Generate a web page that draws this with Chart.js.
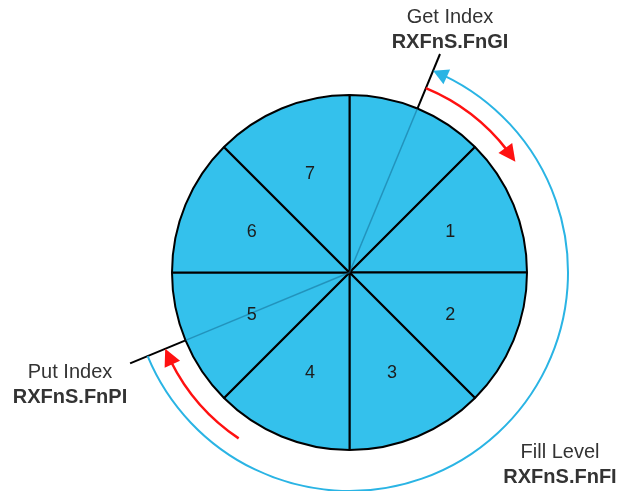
<!DOCTYPE html>
<html>
<head>
<meta charset="utf-8">
<script src="https://cdn.jsdelivr.net/npm/chart.js@4/dist/chart.umd.min.js"></script>
<style>
  html, body { margin: 0; padding: 0; background: #fff; }
</style>
</head>
<body>
<canvas id="ring" width="619" height="491"></canvas>
<script>
// ring buffer slots (slot 0 has no number drawn)
const slots = ['0', '1', '2', '3', '4', '5', '6', '7'];
const slotLabels = ['', '1', '2', '3', '4', '5', '6', '7'];
const slotSizes = [1, 1, 1, 1, 1, 1, 1, 1];

// positions are in slot units, clockwise from the top
const getIndex = 0.5;
const putIndex = 5.5;
const fillLevel = putIndex - getIndex;
const stepLength = 0.75;

const FONT = '"Liberation Sans", Arial, sans-serif';
const BLUE = '#2ab4e4';
const RED = '#ff1111';

// angle of a slot position, taken from the arcs the library laid out
function slotAngle(meta, pos) {
  const i = Math.min(Math.floor(pos), meta.data.length - 1);
  const a = meta.data[i];
  return a.startAngle + (pos - i) * (a.endAngle - a.startAngle);
}

function arrowHead(ctx, x, y, dir, len, half, color) {
  ctx.save();
  ctx.translate(x, y);
  ctx.rotate(dir);
  ctx.fillStyle = color;
  ctx.beginPath();
  ctx.moveTo(0, 0);
  ctx.lineTo(-len, -half);
  ctx.lineTo(-len, half);
  ctx.closePath();
  ctx.fill();
  ctx.restore();
}

// arc from a0 to a1; head at the a1 end when headAtEnd, else at a0
function arrowArc(ctx, cx, cy, r, a0, a1, color, width, headAtEnd, len, half) {
  const cw = a1 > a0;
  const da = len / r;
  let s = a0, e = a1;
  if (headAtEnd) e = cw ? a1 - da * 0.8 : a1 + da * 0.8;
  else s = cw ? a0 + da * 0.8 : a0 - da * 0.8;
  ctx.save();
  ctx.strokeStyle = color;
  ctx.lineWidth = width;
  ctx.beginPath();
  ctx.arc(cx, cy, r, s, e, !cw);
  ctx.stroke();
  ctx.restore();
  const tipA = headAtEnd ? a1 : a0;
  const tx = cx + r * Math.cos(tipA), ty = cy + r * Math.sin(tipA);
  // direction of travel at the tip
  let dir = tipA + (cw ? Math.PI / 2 : -Math.PI / 2);
  if (!headAtEnd) dir += Math.PI;
  arrowHead(ctx, tx, ty, dir - (headAtEnd ? (cw ? da / 2 : -da / 2) : (cw ? -da / 2 : da / 2)), len, half, color);
}

function indexLine(ctx, cx, cy, R, a, outer) {
  const c = Math.cos(a), s = Math.sin(a);
  ctx.save();
  ctx.strokeStyle = 'rgba(20,110,150,0.55)';
  ctx.lineWidth = 1.5;
  ctx.beginPath();
  ctx.moveTo(cx, cy);
  ctx.lineTo(cx + R * c, cy + R * s);
  ctx.stroke();
  ctx.strokeStyle = '#000';
  ctx.lineWidth = 2;
  ctx.beginPath();
  ctx.moveTo(cx + R * c, cy + R * s);
  ctx.lineTo(cx + outer * c, cy + outer * s);
  ctx.stroke();
  ctx.restore();
}

function caption(ctx, x, y, title, reg) {
  ctx.save();
  ctx.textAlign = 'center';
  ctx.textBaseline = 'alphabetic';
  ctx.fillStyle = '#333';
  ctx.font = '20px ' + FONT;
  ctx.fillText(title, x, y);
  ctx.font = 'bold 20px ' + FONT;
  ctx.fillText(reg, x, y + 25);
  ctx.restore();
}

const ringOverlay = {
  id: 'ringOverlay',
  afterDraw(chart) {
    const ctx = chart.ctx;
    const meta = chart.getDatasetMeta(0);
    const first = meta.data[0];
    const cx = first.x, cy = first.y, R = first.outerRadius;

    // index lines
    const aGet = slotAngle(meta, getIndex);
    const aPut = slotAngle(meta, putIndex);
    indexLine(ctx, cx, cy, R, aGet, R + 59);
    indexLine(ctx, cx, cy, R, aPut, R + 60);

    // slot numbers
    ctx.save();
    ctx.fillStyle = '#1c1c1c';
    ctx.font = '18px ' + FONT;
    ctx.textAlign = 'center';
    ctx.textBaseline = 'middle';
    meta.data.forEach((arc, i) => {
      const mid = (arc.startAngle + arc.endAngle) / 2;
      const r = arc.outerRadius * 0.605;
      ctx.fillText(slotLabels[i], arc.x + r * Math.cos(mid) + 1.5, arc.y + r * Math.sin(mid) + 1);
    });
    ctx.restore();

    // fill level arc (blue), head at the get index
    arrowArc(ctx, cx, cy, R + 41, aGet, slotAngle(meta, getIndex + fillLevel), BLUE, 2, false, 15, 8);

    // movement arrows (red)
    arrowArc(ctx, cx, cy, R + 22, aGet, slotAngle(meta, getIndex + stepLength), RED, 2.5, true, 17, 8.5);
    arrowArc(ctx, cx, cy, R + 22, slotAngle(meta, putIndex - stepLength), aPut, RED, 2.5, true, 17, 8.5);

    caption(ctx, 450, 23, 'Get Index', 'RXFnS.FnGI');
    caption(ctx, 70, 378, 'Put Index', 'RXFnS.FnPI');
    caption(ctx, 560, 458, 'Fill Level', 'RXFnS.FnFI');
  }
};

new Chart(document.getElementById('ring'), {
  type: 'pie',
  data: {
    labels: slots,
    datasets: [{
      data: slotSizes,
      backgroundColor: '#34c1ec',
      borderColor: '#000',
      borderWidth: 2
    }]
  },
  options: {
    responsive: false,
    animation: false,
    events: [],
    layout: { padding: { top: 94, bottom: 40, left: 171, right: 91 } },
    plugins: {
      legend: { display: false },
      tooltip: { enabled: false }
    }
  },
  plugins: [ringOverlay]
});
</script>
</body>
</html>
